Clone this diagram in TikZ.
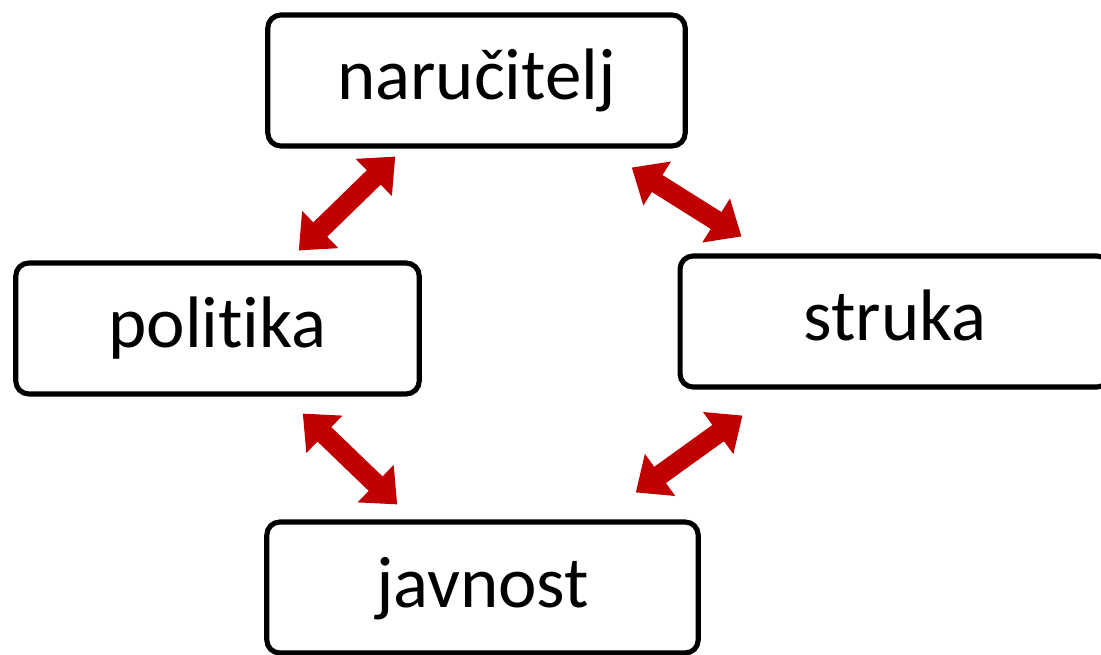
\documentclass[tikz,border=0pt]{standalone}
\usepackage{fontspec}
\setmainfont[Ligatures=NoCommon]{Carlito}
\usetikzlibrary{arrows.meta}
\definecolor{arrowred}{RGB}{192,0,0}
\begin{document}
\begin{tikzpicture}[x=0.02cm, y=-0.02cm,
    party/.style={draw, line width=2.9pt, rounded corners=0.26cm, minimum height=2.62cm,
      font=\fontsize{41.5}{50}\selectfont, text height=1.1cm, text depth=0.32cm},
    link/.style={arrowred, line width=0.4cm,
      {Triangle[length=0.6cm, width=1.0cm]}-{Triangle[length=0.6cm, width=1.0cm]}}]

  \useasboundingbox (0,0) rectangle (1101,655);
  \clip (0,0) rectangle (1101,655);

  \node[party, minimum width=8.35cm] (narucitelj) at (476.5,80.5)  {naručitelj};
  \node[party, minimum width=8.07cm] (politika)   at (217.5,328.5) {politika};
  \node[party, minimum width=8.6cm]  (struka)     at (895,321.5)   {struka};
  \node[party, minimum width=8.63cm] (javnost)    at (482.5,587.5) {javnost};

  % Arrows
  \draw[link] ([shift={(-123,-10)}]politika.north east) -- ([shift={(130,8)}]narucitelj.south west);
  \draw[link] ([shift={(-56,19)}]narucitelj.south east) -- ([shift={(64,-17)}]struka.north west);
  \draw[link] ([shift={(-119,17)}]politika.south east)  -- ([shift={(133,-15)}]javnost.north west);
  \draw[link] ([shift={(-65,-27)}]javnost.north east)   -- ([shift={(65,26)}]struka.south west);

\end{tikzpicture}
\end{document}
